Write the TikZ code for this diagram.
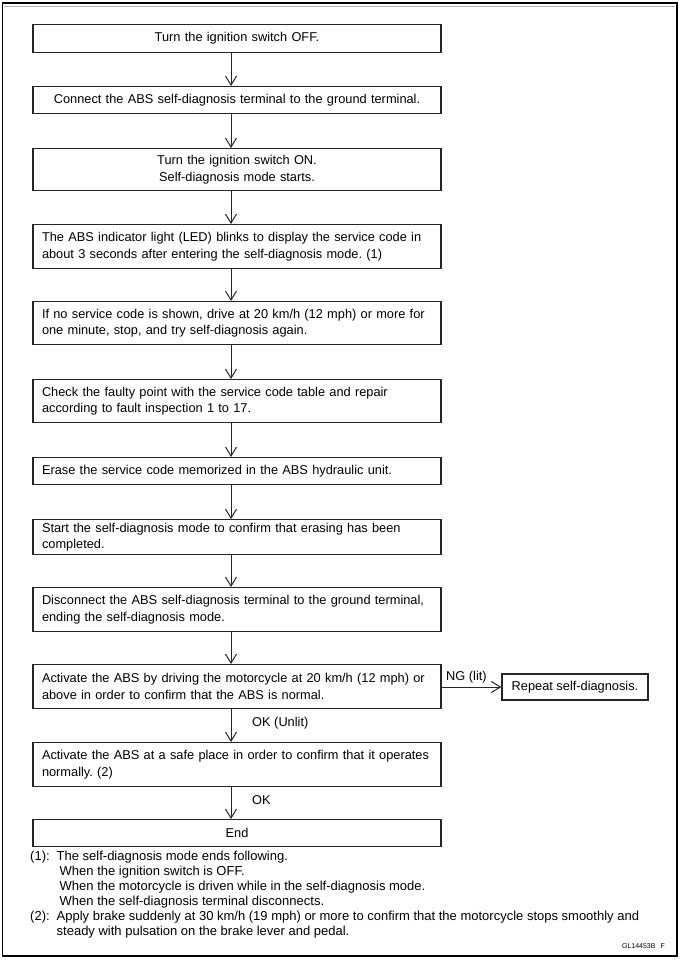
\documentclass[tikz,border=0pt]{standalone}
\usepackage{fontspec}
\setmainfont{Liberation Sans}
\usetikzlibrary{arrows.meta}
\frenchspacing
\begin{document}
\begin{tikzpicture}[x=1pt,y=-1pt,
  stepbox/.style={draw=black!85,line width=1.3pt,minimum width=408pt,text width=390pt,
    inner xsep=9pt,inner ysep=0pt,anchor=north,align=left,font=\fontsize{12.8}{16.5}\selectfont},
  mid/.style={align=center},
  flow/.style={draw=black!85,line width=1pt,-{Straight Barb[length=9pt,width=11pt,line width=1pt]}},
  lbl/.style={font=\fontsize{12.8}{16}\selectfont,inner sep=0pt},
  note/.style={font=\fontsize{13}{15}\selectfont,inner sep=0pt,anchor=north west,align=left}]
\useasboundingbox (0,0) rectangle (681,961);
\draw[line width=1.5pt] (2.5,3) rectangle (677,956);
\draw[gray!60,line width=1pt] (3.5,6.5) -- (675,6.5);
\coordinate (ax) at (231,0);

\node[stepbox,mid,minimum height=28pt] (b1) at (237,24) {Turn the ignition switch OFF.};
\node[stepbox,mid,minimum height=27pt] (b2) at (237,86) {\mbox{Connect the ABS self-diagnosis terminal to the ground terminal.}};
\node[stepbox,mid,minimum height=42pt] (b3) at (237,148) {Turn the ignition switch ON.\\Self-diagnosis mode starts.};
\node[stepbox,minimum height=44pt] (b4) at (237,224) {\mbox{The ABS indicator light (LED) blinks to display the service code in}\\\mbox{about 3 seconds after entering the self-diagnosis mode. (1)}};
\node[stepbox,minimum height=43pt] (b5) at (237,301) {\mbox{If no service code is shown, drive at 20 km/h (12 mph) or more for}\\\mbox{one minute, stop, and try self-diagnosis again.}};
\node[stepbox,minimum height=43pt] (b6) at (237,379) {\makebox[390pt][s]{Check the faulty point with the service code table and repair}\\\mbox{according to fault inspection 1 to 17.}};
\node[stepbox,minimum height=27pt] (b7) at (237,457) {\mbox{Erase the service code memorized in the ABS hydraulic unit.}};
\node[stepbox,minimum height=35pt] (b8) at (237,519) {\mbox{Start the self-diagnosis mode to confirm that erasing has been}\\\mbox{completed.}};
\node[stepbox,minimum height=44pt] (b9) at (237,587) {\mbox{Disconnect the ABS self-diagnosis terminal to the ground terminal,}\\\mbox{ending the self-diagnosis mode.}};
\node[stepbox,minimum height=44pt] (b10) at (237,664) {\mbox{Activate the ABS by driving the motorcycle at 20 km/h (12 mph) or}\\\mbox{above in order to confirm that the ABS is normal.}};
\node[stepbox,minimum height=44pt] (b11) at (237,742) {\mbox{Activate the ABS at a safe place in order to confirm that it operates}\\\mbox{normally. (2)}};
\node[stepbox,mid,minimum height=27pt] (b12) at (237,819) {End};

\node[draw=black!85,line width=1.3pt,minimum width=146pt,minimum height=26pt,inner sep=0pt,
  font=\fontsize{12.8}{16}\selectfont] (rep) at (575,687) {Repeat self-diagnosis.};

\foreach \a/\b in {b1/b2,b2/b3,b3/b4,b4/b5,b5/b6,b6/b7,b7/b8,b8/b9,b9/b10,b10/b11,b11/b12}
  \draw[flow] (\a.south -| ax) -- (\b.north -| ax);
\draw[flow] (rep.west -| b10.east) -- (rep.west);

\node[lbl,anchor=west] (okun) at (252,723) {OK (Unlit)};
\node[lbl,anchor=west] (ok) at (252,800) {OK};
\node[lbl,anchor=south west] (ng) at (446,683) {NG (lit)};

\node[note] (n1) at (30,850) {\begin{tabular}{@{}l@{\hspace{7pt}}l@{}}
(1): & The self-diagnosis mode ends following.\\
 & \hspace{3pt}When the ignition switch is OFF.\\
 & \hspace{3pt}When the motorcycle is driven while in the self-diagnosis mode.\\
 & \hspace{3pt}When the self-diagnosis terminal disconnects.\\
(2): & Apply brake suddenly at 30 km/h (19 mph) or more to confirm that the motorcycle stops smoothly and\\
 & steady with pulsation on the brake lever and pedal.
\end{tabular}};
\node[inner sep=0pt,anchor=east,font=\fontsize{7}{8}\selectfont] (code) at (665,946) {GL14453B\hspace{5pt}F};
\end{tikzpicture}
\end{document}
